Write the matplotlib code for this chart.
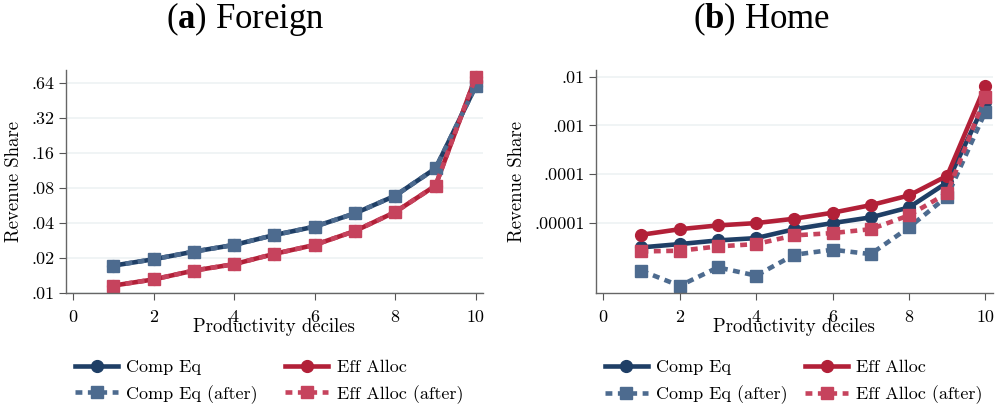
import matplotlib
matplotlib.use("Agg")
import matplotlib.pyplot as plt

plt.rcParams["font.family"] = ["cmr10", "DejaVu Serif"]
plt.rcParams["mathtext.fontset"] = "custom"
plt.rcParams["mathtext.rm"] = "Liberation Serif"
plt.rcParams["mathtext.bf"] = "Liberation Serif:bold"

# deciles
deciles = [1, 2, 3, 4, 5, 6, 7, 8, 9, 10]

# Foreign revenue shares (before and after are on top of each other)
foreign_comp = [0.0171, 0.0194, 0.0226, 0.0258, 0.0314, 0.0371, 0.0483, 0.0686, 0.118, 0.606]
foreign_eff = [0.0115, 0.0130, 0.0155, 0.0176, 0.0216, 0.0258, 0.0340, 0.0496, 0.0837, 0.73]
foreign_comp_after = [0.0171, 0.0194, 0.0226, 0.0258, 0.0314, 0.0371, 0.0483, 0.0686, 0.118, 0.606]
foreign_eff_after = [0.0115, 0.0130, 0.0155, 0.0176, 0.0216, 0.0258, 0.0340, 0.0496, 0.0837, 0.73]

# Home revenue shares
home_comp = [3.18e-6, 3.72e-6, 4.42e-6, 4.93e-6, 7.5e-6, 1.0e-5, 1.31e-5, 2.09e-5, 6.79e-5, 3.0e-3]
home_eff = [5.77e-6, 7.5e-6, 8.96e-6, 1.0e-5, 1.23e-5, 1.63e-5, 2.33e-5, 3.68e-5, 9.3e-5, 6.5e-3]
home_comp_after = [1.06e-6, 5.2e-7, 1.24e-6, 8.4e-7, 2.25e-6, 2.85e-6, 2.32e-6, 8.15e-6, 3.5e-5, 1.9e-3]
home_eff_after = [2.63e-6, 2.72e-6, 3.33e-6, 3.72e-6, 5.6e-6, 6.25e-6, 7.5e-6, 1.44e-5, 4.1e-5, 3.9e-3]

foreign_ticks = [0.01, 0.02, 0.04, 0.08, 0.16, 0.32, 0.64]
foreign_labels = [".01", ".02", ".04", ".08", ".16", ".32", ".64"]
home_ticks = [1e-5, 1e-4, 1e-3, 1e-2]
home_labels = [".00001", ".0001", ".001", ".01"]

navy = "#1f3f66"
red = "#b22038"
navy_sq = "#4d6b8f"
red_sq = "#c6435d"

fig = plt.figure(figsize=(9.96, 4.11), dpi=100)
ax1 = fig.add_axes([0.066, 0.288, 0.419, 0.542])
ax2 = fig.add_axes([0.598, 0.287, 0.399, 0.543])


def draw(ax, comp, eff, comp_a, eff_a):
    h1, = ax.plot(deciles, comp, color=navy, lw=3.3, marker="o", ms=8.5, label="Comp Eq")
    h2, = ax.plot(deciles, eff, color=red, lw=3.3, marker="o", ms=8.5, label="Eff Alloc")
    h3, = ax.plot(deciles, comp_a, color=navy_sq, lw=3.3, ls=(0, (1.5, 1.2)), marker="s",
                  ms=9, label="Comp Eq (after)")
    h4, = ax.plot(deciles, eff_a, color=red_sq, lw=3.3, ls=(0, (1.5, 1.2)), marker="s",
                  ms=9, label="Eff Alloc (after)")
    return [h1, h3, h2, h4]


def style(ax, ticks, labels, xlim, ylim, base):
    ax.set_yscale("log", base=base)
    ax.set_xlim(*xlim)
    ax.set_ylim(*ylim)
    ax.set_yticks(ticks)
    ax.set_yticklabels(labels)
    ax.minorticks_off()
    ax.set_xticks([0, 2, 4, 6, 8, 10])
    ax.tick_params(axis="both", labelsize=13, length=5, color="#555555", pad=3)
    ax.tick_params(axis="x", pad=7)
    for s in ["top", "right"]:
        ax.spines[s].set_visible(False)
    for s in ["left", "bottom"]:
        ax.spines[s].set_color("#666666")
        ax.spines[s].set_linewidth(1.0)
    ax.grid(axis="y", color="#edf2f3", lw=1.2)
    ax.set_axisbelow(True)
    ax.set_ylabel("Revenue Share", fontsize=13.5, labelpad=6)
    ax.set_xlabel("Productivity deciles", fontsize=13.5, labelpad=-5)


handles = draw(ax1, foreign_comp, foreign_eff, foreign_comp_after, foreign_eff_after)
style(ax1, foreign_ticks, foreign_labels, (-0.18, 10.18), (0.01, 0.835), 2)
handles2 = draw(ax2, home_comp, home_eff, home_comp_after, home_eff_after)
style(ax2, home_ticks, home_labels, (-0.2, 10.2), (3.7e-7, 0.0137), 10)

fig.text(0.246, 0.932, r"($\mathbf{a}$) Foreign", fontsize=25, family="Liberation Serif",
         ha="center", va="baseline")
fig.text(0.765, 0.932, r"($\mathbf{b}$) Home", fontsize=25, family="Liberation Serif",
         ha="center", va="baseline")

for ax, hs, x0, gap in [(ax1, handles, 0.022, 1.5), (ax2, handles2, 0.023, 0.95)]:
    ax.legend(hs, [h.get_label() for h in hs], ncol=2, loc="upper left",
              bbox_to_anchor=(x0, -0.299), frameon=False, fontsize=13,
              handlelength=2.4, handletextpad=0.45, columnspacing=gap,
              labelspacing=0.55, borderaxespad=0, borderpad=0)

fig.savefig("out.png", dpi=100)
